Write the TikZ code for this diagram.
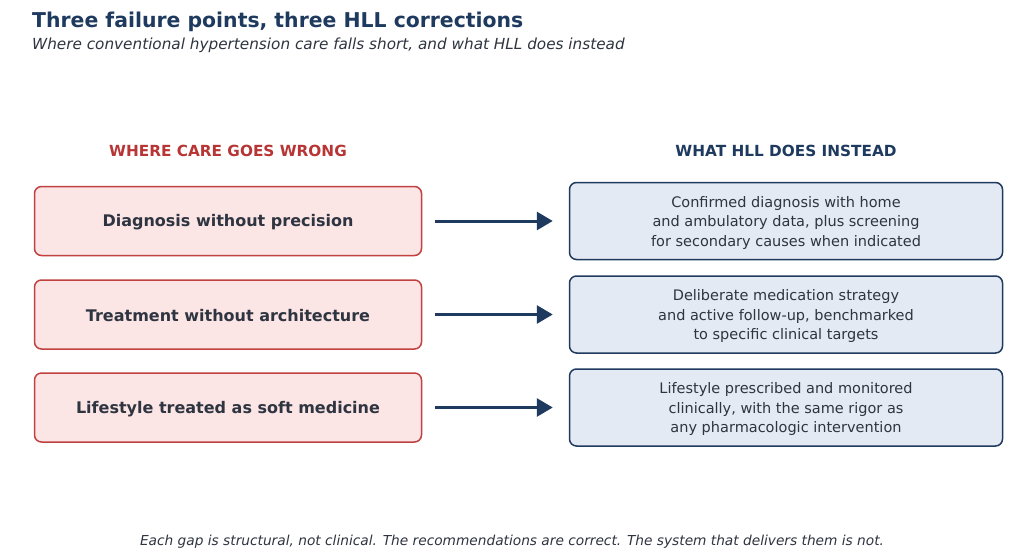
\documentclass[tikz,border=0pt]{standalone}
\usepackage{fontspec}
\setmainfont{DejaVu Sans}
\usetikzlibrary{arrows.meta}
\definecolor{navy}{HTML}{1F3A5F}
\definecolor{redh}{HTML}{B83535}
\definecolor{redborder}{HTML}{C0413F}
\definecolor{redfill}{HTML}{FBE5E5}
\definecolor{bluefill}{HTML}{E4EAF3}
\definecolor{txt}{HTML}{2E3440}
\tikzset{
  leftbox/.style={draw=redborder, fill=redfill, line width=1.5pt, rounded corners=7pt, minimum width=387pt, minimum height=69pt, inner sep=0pt},
  rightbox/.style={draw=navy, fill=bluefill, line width=1.5pt, rounded corners=7pt, minimum width=433pt, minimum height=77pt, inner sep=0pt},
  lefttext/.style={text=txt, inner sep=0pt, font=\fontsize{16}{19}\selectfont\bfseries},
  righttext/.style={text=txt, inner sep=0pt, align=center, font=\fontsize{14.5}{19.5}\selectfont},
  flow/.style={draw=navy, line width=3pt, -{Triangle[length=16pt,width=18pt]}},
  heading/.style={font=\fontsize{15.3}{18}\selectfont\bfseries},
}
\begin{document}
\begin{tikzpicture}[x=1pt,y=-1pt]
\useasboundingbox[fill=white] (0,0) rectangle (1024,559);
\node[anchor=base west, text=navy, font=\fontsize{20.4}{24}\selectfont\bfseries, inner sep=0pt] (title) at (32,27.5) {Three failure points, three HLL corrections};
\node[anchor=base west, text=txt, font=\fontsize{15.25}{18}\selectfont\itshape, inner sep=0pt] (subtitle) at (32,49.5) {Where conventional hypertension care falls short, and what HLL does instead};
\node[heading, text=redh] (hl) at (228,151) {WHERE CARE GOES WRONG};
\node[heading, text=navy] (hr) at (786,151) {WHAT HLL DOES INSTEAD};
\node[leftbox] (l1) at (228,221) {};
\node[leftbox] (l2) at (228,314.5) {};
\node[leftbox] (l3) at (228,407.5) {};
\node[rightbox] (r1) at (786,221) {};
\node[rightbox] (r2) at (786,314.5) {};
\node[rightbox] (r3) at (786,407.5) {};
\node[lefttext] (lt1) at ([yshift=-1.5pt]l1.center) {Diagnosis without precision};
\node[lefttext] (lt2) at ([yshift=-1.5pt]l2.center) {Treatment without architecture};
\node[lefttext] (lt3) at ([yshift=-1.5pt]l3.center) {Lifestyle treated as soft medicine};
\node[righttext] (rt1) at ([yshift=-1.5pt]r1.center) {Confirmed diagnosis with home\\and ambulatory data, plus screening\\for secondary causes when indicated};
\node[righttext] (rt2) at ([yshift=-1.5pt]r2.center) {Deliberate medication strategy\\and active follow-up, benchmarked\\to specific clinical targets};
\node[righttext] (rt3) at ([yshift=-1.5pt]r3.center) {Lifestyle prescribed and monitored\\clinically, with the same rigor as\\any pharmacologic intervention};
\draw[flow] ([xshift=13pt]l1.east) -- ([xshift=-16pt]r1.west);
\draw[flow] ([xshift=13pt]l2.east) -- ([xshift=-16pt]r2.west);
\draw[flow] ([xshift=13pt]l3.east) -- ([xshift=-16pt]r3.west);
\node[text=txt, font=\fontsize{13.72}{17}\selectfont\itshape] (foot) at (512,542) {Each gap is structural, not clinical. The recommendations are correct. The system that delivers them is not.};
\end{tikzpicture}
\end{document}
